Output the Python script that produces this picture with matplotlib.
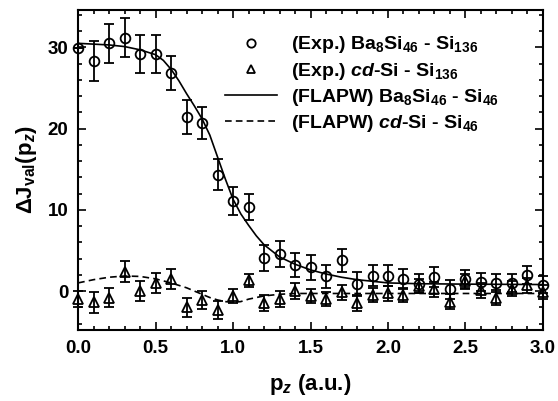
import matplotlib
matplotlib.use("Agg")
import matplotlib.pyplot as plt
from matplotlib.ticker import MultipleLocator, FormatStrFormatter

plt.rcParams['font.family'] = ['Liberation Sans', 'DejaVu Sans']
plt.rcParams['font.weight'] = 'bold'
plt.rcParams['mathtext.fontset'] = 'custom'
plt.rcParams['mathtext.rm'] = 'Liberation Sans:bold'
plt.rcParams['mathtext.bf'] = 'Liberation Sans:bold'
plt.rcParams['mathtext.it'] = 'Liberation Sans:bold:italic'

# momentum grid of the measured points (a.u.)
pz = [0.0, 0.1, 0.2, 0.3, 0.4, 0.5, 0.6, 0.7, 0.8, 0.9,
      1.0, 1.1, 1.2, 1.3, 1.4, 1.5, 1.6, 1.7, 1.8, 1.9,
      2.0, 2.1, 2.2, 2.3, 2.4, 2.5, 2.6, 2.7, 2.8, 2.9, 3.0]

# (Exp.) Ba8Si46 - Si136
exp_ba = [29.9, 28.3, 30.5, 31.2, 29.2, 29.2, 26.8, 21.4, 20.7, 14.3,
          11.1, 10.3, 4.1, 4.5, 3.2, 2.9, 1.8, 3.8, 0.9, 1.9,
          1.9, 1.5, 0.9, 1.7, 0.2, 1.5, 1.1, 1.0, 1.0, 2.0, 0.8]
exp_ba_err = [0.0, 2.5, 2.4, 2.4, 2.3, 2.3, 2.1, 2.1, 2.0, 1.9,
              1.7, 1.6, 1.6, 1.6, 1.5, 1.5, 1.4, 1.4, 1.4, 1.3,
              1.3, 1.2, 1.2, 1.2, 1.2, 1.1, 1.1, 1.1, 1.1, 1.1, 1.1]

# (Exp.) cd-Si - Si136
exp_cd = [-1.0, -1.4, -0.8, 2.4, 0.0, 1.0, 1.5, -2.0, -1.1, -2.3,
          -0.6, 1.3, -1.5, -1.0, 0.0, -0.6, -1.0, -0.15, -1.5, -0.5,
          -0.3, -0.5, 0.6, 0.2, -1.3, 1.2, 0.1, -0.8, 0.3, 0.7, -0.1]
exp_cd_err = [1.0, 1.3, 1.2, 1.3, 1.2, 1.2, 1.2, 1.2, 1.1, 1.1,
              0.9, 0.8, 1.0, 1.0, 1.0, 0.9, 0.9, 0.9, 0.9, 0.9,
              0.9, 0.9, 0.9, 0.9, 0.9, 0.9, 0.9, 0.9, 0.9, 0.9, 0.9]

# (FLAPW) curves
pz_calc = [0.0, 0.1, 0.2, 0.3, 0.4, 0.5, 0.55, 0.6, 0.65, 0.7,
           0.75, 0.8, 0.85, 0.9, 0.95, 1.0, 1.05, 1.1, 1.15, 1.2,
           1.3, 1.4, 1.5, 1.6, 1.7, 1.8, 1.9, 2.0, 2.2, 2.5, 3.0]
flapw_ba = [30.5, 30.4, 30.3, 30.1, 29.7, 29.1, 28.4, 27.3, 25.9, 24.3,
            22.8, 21.2, 19.2, 16.5, 13.8, 11.3, 9.5, 8.1, 6.8, 5.7,
            4.2, 3.3, 2.6, 2.1, 1.7, 1.4, 1.2, 1.0, 0.9, 0.85, 0.8]
flapw_cd = [1.0, 1.4, 1.7, 1.85, 1.8, 1.5, 1.25, 1.0, 0.7, 0.4,
            0.0, -0.4, -0.8, -1.1, -1.3, -1.4, -1.3, -1.0, -0.8, -0.6,
            -0.4, -0.3, -0.3, -0.3, -0.3, -0.3, -0.3, -0.3, -0.3, -0.3, -0.3]

fig = plt.figure(figsize=(5.58, 4.01), dpi=100)
ax = fig.add_axes([0.14, 0.177, 0.833, 0.798])

ax.plot(pz_calc, flapw_ba, color='black', linewidth=1.2,
        label=r'(FLAPW) Ba$_8$Si$_{46}$ - Si$_{46}$')
ax.plot(pz_calc, flapw_cd, color='black', linewidth=1.2, dashes=(4, 2.5),
        label=r'(FLAPW) $\it{cd}$-Si - Si$_{46}$')

for yv, ye in [(exp_ba, exp_ba_err), (exp_cd, exp_cd_err)]:
    eb = ax.errorbar(pz, yv, yerr=ye, fmt='none', ecolor='black',
                     elinewidth=1.3, capsize=3.5, capthick=1.3)
    for art in eb.lines[1] + eb.lines[2]:
        art.set_clip_on(False)
ax.plot(pz, exp_ba, 'o', ms=7, mfc='none', mec='black', mew=1.3, clip_on=False,
        label=r'(Exp.) Ba$_8$Si$_{46}$ - Si$_{136}$')
ax.plot(pz, exp_cd, '^', ms=7, mfc='none', mec='black', mew=1.3, clip_on=False,
        label=r'(Exp.) $\it{cd}$-Si - Si$_{136}$')

ax.set_xlim(0, 3.0)
ax.set_ylim(-4.8, 34.6)
ax.xaxis.set_major_locator(MultipleLocator(0.5))
ax.xaxis.set_minor_locator(MultipleLocator(0.1))
ax.yaxis.set_major_locator(MultipleLocator(10))
ax.yaxis.set_minor_locator(MultipleLocator(2))
ax.tick_params(which='both', direction='in', top=True, right=True,
               labelsize=13.5, width=1.2)
ax.tick_params(which='major', length=6, pad=7)
ax.tick_params(which='minor', length=3)
for s in ax.spines.values():
    s.set_linewidth(1.5)
ax.xaxis.set_major_formatter(FormatStrFormatter('%.1f'))

ax.set_xlabel(r'p$_z$ (a.u.)', fontsize=16, fontweight='bold', labelpad=11)
ax.set_ylabel(r'$\Delta$J$_{\mathrm{val}}$(p$_z$)', fontsize=16,
              fontweight='bold', labelpad=6)

h, l = ax.get_legend_handles_labels()
order = [2, 3, 0, 1]
leg = ax.legend([h[i] for i in order], [l[i] for i in order],
                loc='upper right', bbox_to_anchor=(0.93, 0.96),
                frameon=False, fontsize=14, handlelength=2.7,
                handletextpad=0.7, labelspacing=0.26, borderaxespad=0.2)
for lh in leg.legend_handles[:2]:
    lh.set_markersize(6)

fig.savefig('out.png', dpi=100)
